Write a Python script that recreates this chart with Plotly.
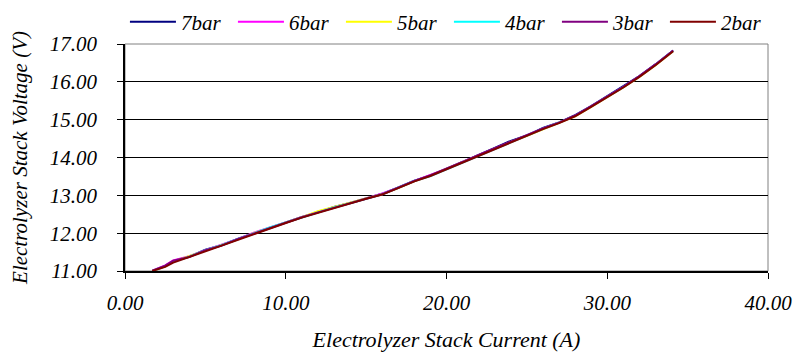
import plotly.graph_objects as go

current = [1.7, 2.5, 3.0, 4.0, 5.0, 6.0, 7.0, 8.0, 9.0, 10.0, 11.0, 12.0, 13.0, 14.0, 15.0, 16.0, 17.0,
           18.0, 19.0, 20.0, 21.0, 22.0, 23.0, 24.0, 25.0, 26.0, 27.0, 28.0, 29.0, 30.0, 31.0, 32.0, 33.0, 34.1]

v_7bar = [11.00, 11.13, 11.26, 11.38, 11.56, 11.68, 11.85, 12.00, 12.15, 12.28, 12.43, 12.55, 12.69, 12.80, 12.93, 13.04, 13.21,
          13.39, 13.52, 13.71, 13.89, 14.07, 14.25, 14.44, 14.58, 14.78, 14.93, 15.12, 15.36, 15.62, 15.87, 16.15, 16.46, 16.83]
v_6bar = [11.01, 11.15, 11.28, 11.39, 11.55, 11.69, 11.84, 12.01, 12.14, 12.29, 12.42, 12.57, 12.68, 12.81, 12.92, 13.05, 13.20,
          13.38, 13.53, 13.70, 13.88, 14.06, 14.24, 14.42, 14.59, 14.76, 14.92, 15.10, 15.35, 15.60, 15.86, 16.14, 16.45, 16.82]
v_5bar = [11.00, 11.12, 11.25, 11.39, 11.54, 11.69, 11.83, 12.00, 12.14, 12.27, 12.42, 12.58, 12.69, 12.80, 12.93, 13.03, 13.19,
          13.37, 13.52, 13.70, 13.87, 14.05, 14.23, 14.41, 14.57, 14.75, 14.91, 15.09, 15.34, 15.59, 15.85, 16.13, 16.44, 16.81]
v_4bar = [11.00, 11.13, 11.24, 11.38, 11.55, 11.68, 11.84, 12.00, 12.15, 12.28, 12.41, 12.56, 12.68, 12.79, 12.92, 13.03, 13.20,
          13.38, 13.51, 13.69, 13.88, 14.06, 14.24, 14.42, 14.58, 14.76, 14.92, 15.10, 15.35, 15.60, 15.86, 16.14, 16.45, 16.82]
v_3bar = [11.01, 11.14, 11.27, 11.37, 11.55, 11.67, 11.84, 11.99, 12.14, 12.28, 12.42, 12.55, 12.67, 12.80, 12.92, 13.03, 13.20,
          13.38, 13.53, 13.70, 13.88, 14.07, 14.25, 14.43, 14.59, 14.77, 14.92, 15.11, 15.36, 15.61, 15.87, 16.15, 16.46, 16.83]
v_2bar = [11.00, 11.11, 11.22, 11.37, 11.54, 11.67, 11.83, 11.99, 12.13, 12.27, 12.41, 12.54, 12.67, 12.79, 12.91, 13.02, 13.19,
          13.37, 13.51, 13.69, 13.87, 14.05, 14.23, 14.41, 14.57, 14.75, 14.91, 15.09, 15.34, 15.59, 15.85, 16.13, 16.44, 16.81]

series_names = ["7bar", "6bar", "5bar", "4bar", "3bar", "2bar"]
series_values = [v_7bar, v_6bar, v_5bar, v_4bar, v_3bar, v_2bar]
series_colors = ["#000080", "#FF00FF", "#FFFF00", "#00FFFF", "#800080", "#800000"]

x_ticks = [0, 10, 20, 30, 40]
y_ticks = [11, 12, 13, 14, 15, 16, 17]

FONT = "Liberation Serif"


def tf(size):
    return dict(family=FONT, size=size, style="italic", color="black")


fig = go.Figure()
for name, vals, col in zip(series_names, series_values, series_colors):
    fig.add_trace(go.Scatter(x=current, y=vals, mode="lines", name=name,
                             line=dict(color=col, width=2)))

fig.update_layout(
    width=796, height=352,
    margin=dict(l=125, r=28, t=44, b=81, autoexpand=False),
    paper_bgcolor="white", plot_bgcolor="white",
    font=tf(21),
    showlegend=True,
    legend=dict(orientation="h", x=-0.0001, y=1.097, xanchor="left", yanchor="middle",
                font=tf(21),
                itemwidth=46,
                entrywidth=47, entrywidthmode="pixels",
                bgcolor="rgba(0,0,0,0)", tracegroupgap=0),
    xaxis=dict(range=[0, 40], tickvals=x_ticks, tickformat=".2f", tickfont=tf(21),
               showgrid=False, zeroline=False,
               showline=True, linecolor="black", linewidth=2,
               ticks="outside", ticklen=6, tickcolor="black", tickwidth=1,
               ticklabelstandoff=6,
               title=dict(text="Electrolyzer Stack Current (A)", standoff=19, font=tf(22))),
    yaxis=dict(range=[11, 17], tickvals=y_ticks, tickformat=".2f", tickfont=tf(21),
               showgrid=True, gridcolor="black", gridwidth=1, zeroline=False,
               showline=True, linecolor="black", linewidth=1.5,
               ticks="outside", ticklen=6, tickcolor="black", tickwidth=1,
               ticklabelstandoff=16,
               title=dict(text="Electrolyzer Stack Voltage (V)", standoff=16, font=tf(21))),
    shapes=[dict(type="rect", xref="paper", yref="paper", x0=0, y0=0, x1=1, y1=1,
                 line=dict(color="#808080", width=1), layer="below")],
)

fig.write_html("out.html",
               config={"displayModeBar": False},
               post_script="document.body.style.margin='0';document.body.style.overflow='hidden';")
